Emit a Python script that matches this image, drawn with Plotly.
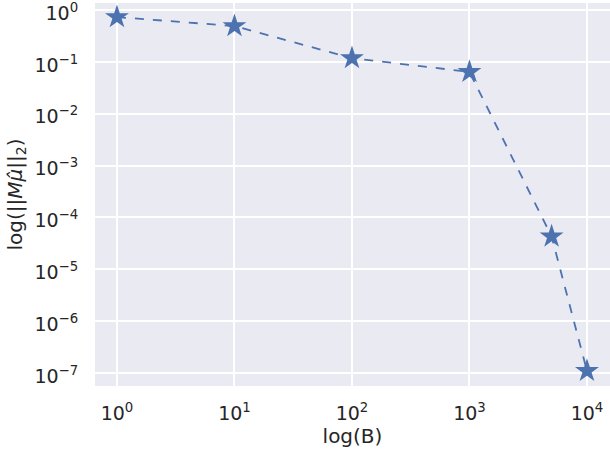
import plotly.graph_objects as go

# batch size B and the norm ||M mu_hat||_2
B = [1, 10, 100, 1000, 5000, 10000]
norm = [0.73, 0.49, 0.118, 0.064, 4.3e-5, 1.1e-7]

xtick_vals = [1, 10, 100, 1000, 10000]
xtick_text = ["10<sup>0</sup>", "10<sup>1</sup>", "10<sup>2</sup>", "10<sup>3</sup>", "10<sup>4</sup>"]
ytick_vals = [1, 1e-1, 1e-2, 1e-3, 1e-4, 1e-5, 1e-6, 1e-7]
ytick_text = ["10<sup>0</sup>", "10<sup>\u22121</sup>", "10<sup>\u22122</sup>", "10<sup>\u22123</sup>",
              "10<sup>\u22124</sup>", "10<sup>\u22125</sup>", "10<sup>\u22126</sup>", "10<sup>\u22127</sup>"]

fig = go.Figure()
fig.add_trace(go.Scatter(
    x=B, y=norm, mode="lines+markers",
    line=dict(color="#4C72B0", width=1.8, dash="dash"),
    marker=dict(symbol="star", size=18, color="#4C72B0", line=dict(width=0)),
    showlegend=False,
))

fig.update_layout(
    width=610, height=450,
    margin=dict(l=95, r=0, t=3, b=64),
    paper_bgcolor="white",
    plot_bgcolor="#EAEAF2",
    font=dict(family="DejaVu Sans", size=19, color="#262626"),
)
fig.update_xaxes(
    type="log", range=[-0.187, 4.196], automargin=False,
    tickvals=xtick_vals, ticktext=xtick_text,
    showgrid=True, gridcolor="white", gridwidth=1.5, zeroline=False,
    ticks="outside", ticklen=10, tickcolor="rgba(0,0,0,0)",
    ticklabeloverflow="allow",
    title=dict(text="log(B)", font=dict(size=20), standoff=4),
)
fig.update_yaxes(
    type="log", range=[-7.25, 0.135], automargin=False,
    tickvals=ytick_vals, ticktext=ytick_text,
    showgrid=True, gridcolor="white", gridwidth=1.5, zeroline=False,
    ticks="outside", ticklen=12, tickcolor="rgba(0,0,0,0)",
    ticklabeloverflow="allow", ticklabelshift=3,
    title=dict(text="log(||<i>M</i><i>\u03bc\u0302</i>||<sub>2</sub>)", font=dict(size=20), standoff=6),
)

# page body has an 8px default margin, drop it so the figure fills the window
fig.write_html("out.html", config={"displayModeBar": False},
               post_script="document.body.style.margin='0';")
